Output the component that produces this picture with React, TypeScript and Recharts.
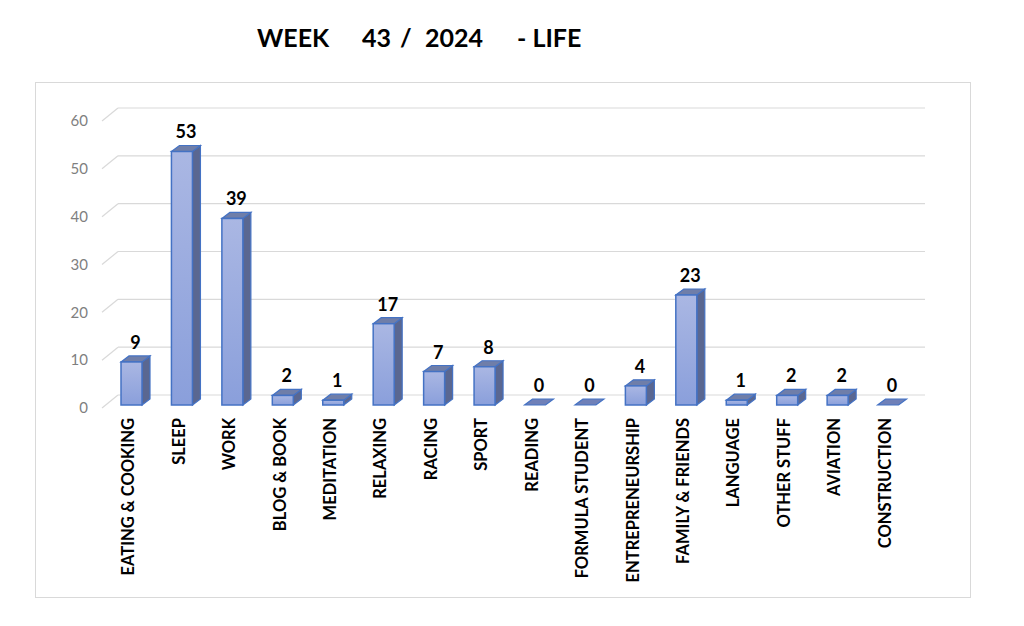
import { BarChart, Bar, XAxis, YAxis, CartesianGrid, LabelList } from "recharts"

const categories = [
  "EATING & COOKING",
  "SLEEP",
  "WORK",
  "BLOG & BOOK",
  "MEDITATION",
  "RELAXING",
  "RACING",
  "SPORT",
  "READING",
  "FORMULA STUDENT",
  "ENTREPRENEURSHIP",
  "FAMILY & FRIENDS",
  "LANGUAGE",
  "OTHER STUFF",
  "AVIATION",
  "CONSTRUCTION",
]
const hours = [9, 53, 39, 2, 1, 17, 7, 8, 0, 0, 4, 23, 1, 2, 2, 0]
const yTicks = [0, 10, 20, 30, 40, 50, 60]

const data = categories.map((name, i) => ({ name, hours: hours[i] }))

const FONT = "Lato, 'Open Sans', sans-serif"
const DX = 8
const DY = 6

const Bar3D = (props: any) => {
  const { x, y, width: w, height: h } = props
  if (h <= 0.5) {
    const yb = y + h
    return (
      <polygon
        points={`${x},${yb} ${x + DX},${yb - DY} ${x + w + DX},${yb - DY} ${x + w},${yb}`}
        fill="#6f80b8"
        stroke="#4472c4"
        strokeWidth={1.2}
      />
    )
  }
  return (
    <g>
      <polygon
        points={`${x + w},${y} ${x + w + DX},${y - DY} ${x + w + DX},${y + h - DY} ${x + w},${y + h}`}
        fill="#5a6791"
        stroke="#4472c4"
        strokeWidth={1.2}
      />
      <polygon
        points={`${x},${y} ${x + DX},${y - DY} ${x + w + DX},${y - DY} ${x + w},${y}`}
        fill="#6f7ea9"
        stroke="#4472c4"
        strokeWidth={1.2}
      />
      <rect x={x} y={y} width={w} height={h} fill="url(#frontGrad)" stroke="#4472c4" strokeWidth={1.5} />
    </g>
  )
}

const GridLine = (props: any) => {
  const { x1, x2, y1 } = props
  return (
    <g>
      <line x1={x1 - 4} y1={y1 + 3} x2={x1 + 12} y2={y1 - 10} stroke="#d9d9d9" strokeWidth={1.2} />
      <line x1={x1 + 12} y1={y1 - 10} x2={x2 + 12} y2={y1 - 10} stroke="#d9d9d9" strokeWidth={1.2} />
    </g>
  )
}

const XTick = (props: any) => {
  const { x, y, payload } = props
  return (
    <text
      x={0}
      y={0}
      transform={`translate(${x + 3},${y + 5}) rotate(-90)`}
      textAnchor="end"
      fontFamily={FONT}
      fontWeight={700}
      fontSize={16.5}
      fill="#000"
    >
      {payload.value}
    </text>
  )
}

const YTick = (props: any) => {
  const { x, y, payload } = props
  return (
    <text x={x} y={y + 3} dy="0.355em" textAnchor="end" fontFamily={FONT} fontSize={15} fill="#7f7f7f">
      {payload.value}
    </text>
  )
}

const ValueLabel = (props: any) => {
  const { x, y, width, value } = props
  return (
    <text
      x={x + width / 2 + 4}
      y={y - DY - 7}
      textAnchor="middle"
      fontFamily={FONT}
      fontWeight={700}
      fontSize={18}
      fill="#000"
    >
      {value}
    </text>
  )
}

const App = () => {
  return (
    <div style={{ position: "absolute", left: 0, top: 0, width: 1024, height: 626, background: "#fff" }}>
      <div
        style={{
          position: "absolute",
          left: 35,
          top: 82,
          width: 934,
          height: 514,
          border: "1px solid #d9d9d9",
        }}
      />
      <svg width={1024} height={80} style={{ position: "absolute", left: 0, top: 0 }}>
        <g fontFamily={FONT} fontWeight={700} fontSize={25} fill="#000">
          <text x={257} y={47}>WEEK</text>
          <text x={362} y={47}>43</text>
          <text x={400} y={47}>/</text>
          <text x={425} y={47}>2024</text>
          <text x={517} y={47}>- LIFE</text>
        </g>
      </svg>
      <div style={{ position: "absolute", left: 0, top: 0 }}>
        <BarChart width={1024} height={626} data={data} margin={{ top: 118, right: 111, left: 0, bottom: 0 }}>
          <defs>
            <linearGradient id="frontGrad" x1="0" y1="0" x2="0" y2="1">
              <stop offset="0%" stopColor="#aab7e3" />
              <stop offset="100%" stopColor="#8a9fdb" />
            </linearGradient>
          </defs>
          <CartesianGrid vertical={false} horizontal={GridLine} />
          <XAxis
            dataKey="name"
            interval={0}
            axisLine={false}
            tickLine={false}
            height={221}
            tick={<XTick />}
          />
          <YAxis
            domain={[0, 60]}
            ticks={yTicks}
            width={106}
            axisLine={false}
            tickLine={false}
            tickMargin={12}
            tick={<YTick />}
          />
          <Bar dataKey="hours" barSize={21} shape={<Bar3D />} isAnimationActive={false}>
            <LabelList dataKey="hours" content={<ValueLabel />} />
          </Bar>
        </BarChart>
      </div>
    </div>
  )
}

export default App
